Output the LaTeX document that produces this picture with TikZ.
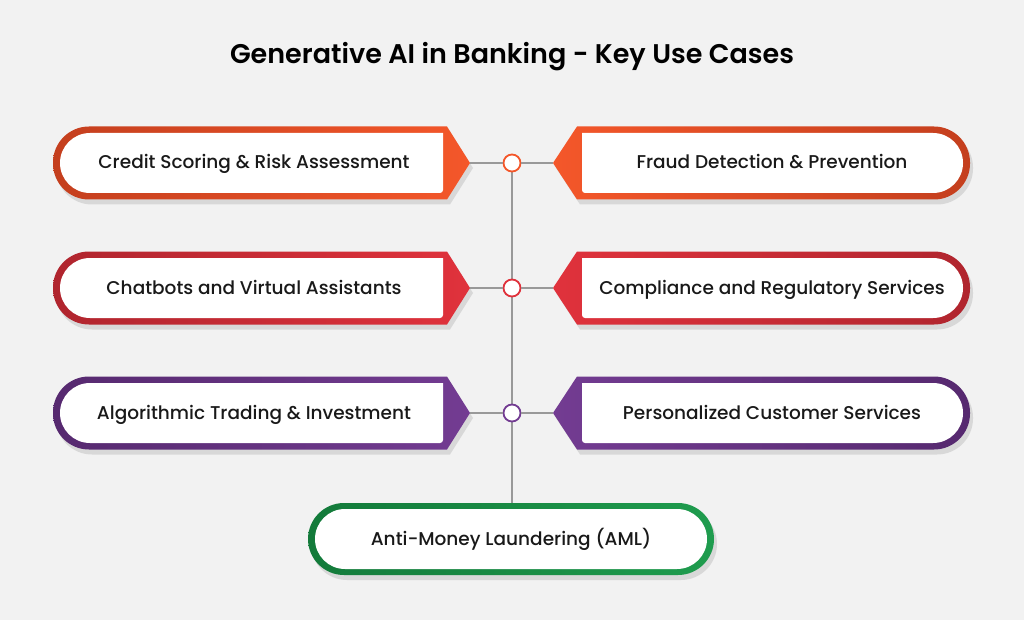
\documentclass[tikz,border=0pt]{standalone}
\usepackage{fontspec}
\setmainfont{Poppins}
\newfontfamily\medfont{Poppins Medium}
\newfontfamily\semifont{Poppins SemiBold}
\begin{document}
\begin{tikzpicture}[x=1pt,y=-1pt,
  lbl/.style={font=\medfont\fontsize{18.5}{22}\selectfont, text=black!90, inner sep=0pt, text height=13pt, text depth=3pt},
  hub/.style={circle, draw=#1, line width=1.8pt, fill=white, minimum size=17pt, inner sep=0pt},
  conn/.style={draw=black!40, line width=1.2pt}]
\definecolor{c1}{HTML}{F4572A}\definecolor{c1d}{HTML}{C43F1E}
\definecolor{c2}{HTML}{E0323C}\definecolor{c2d}{HTML}{B0252E}
\definecolor{c3}{HTML}{733C92}\definecolor{c3d}{HTML}{56296F}
\definecolor{c4}{HTML}{1F9C4E}\definecolor{c4d}{HTML}{137A3A}
\fill[black!5] (0,0) rectangle (1024,620);
\useasboundingbox (0,0) rectangle (1024,620);
\node[font=\semifont\fontsize{27}{32}\selectfont] (title) at (512,57) {Generative AI in Banking - Key Use Cases};
\coordinate (vtop) at (512,163);
\coordinate (vbot) at (512,503);
\draw[conn] (vtop) -- (vbot);
\newcommand{\lbox}[5]{% y, color, dark, name, text
  \fill[black!25, opacity=.5] (450,#1-31.5) -- (473,#1+5) -- (450,#1+41.5) {[rounded corners=36pt] -- (56,#1+41.5) -- (56,#1-31.5)} -- cycle;
  \shade[left color=#3, right color=#2] (447,#1-36.5) -- (470,#1) -- (447,#1+36.5) {[rounded corners=36pt] -- (53,#1+36.5) -- (53,#1-36.5)} -- cycle;
  \fill[white] (443,#1-30) {[rounded corners=3pt] -- (443,#1+30)} {[rounded corners=30pt] -- (60,#1+30) -- (60,#1-30)} -- cycle;
  \coordinate (#4tip) at (470,#1);
  \node[lbl] (#4) at (254,#1+1) {#5};}
\newcommand{\rbox}[5]{%
  \fill[black!25, opacity=.5] (580,#1-31.5) -- (556,#1+5) -- (580,#1+41.5) {[rounded corners=36pt] -- (973,#1+41.5) -- (973,#1-31.5)} -- cycle;
  \shade[left color=#2, right color=#3] (577,#1-36.5) -- (553,#1) -- (577,#1+36.5) {[rounded corners=36pt] -- (970,#1+36.5) -- (970,#1-36.5)} -- cycle;
  \fill[white] (582,#1-30) {[rounded corners=3pt] -- (582,#1+30)} {[rounded corners=30pt] -- (963,#1+30) -- (963,#1-30)} -- cycle;
  \coordinate (#4tip) at (553,#1);
  \node[lbl] (#4) at (772,#1+1) {#5};}
\lbox{163}{c1}{c1d}{credit}{Credit Scoring \& Risk Assessment}
\rbox{163}{c1}{c1d}{fraud}{Fraud Detection \& Prevention}
\lbox{288}{c2}{c2d}{chat}{Chatbots and Virtual Assistants}
\rbox{288}{c2}{c2d}{comp}{Compliance and Regulatory Services}
\lbox{413}{c3}{c3d}{algo}{Algorithmic Trading \& Investment}
\rbox{413}{c3}{c3d}{pers}{Personalized Customer Services}
\node[hub=c1] (h1) at (512,163) {};
\node[hub=c2] (h2) at (512,288) {};
\node[hub=c3] (h3) at (512,413) {};
\draw[conn] (credittip) -- (h1); \draw[conn] (h1) -- (fraudtip);
\draw[conn] (chattip) -- (h2); \draw[conn] (h2) -- (comptip);
\draw[conn] (algotip) -- (h3); \draw[conn] (h3) -- (perstip);
\fill[black!25, opacity=.5, rounded corners=36pt] (311,508) rectangle (717,580);
\shade[left color=c4d, right color=c4, rounded corners=36pt] (308,503) rectangle (714,575);
\fill[white, rounded corners=30pt] (315,509) rectangle (707,569);
\node[lbl] (aml) at (511,540) {Anti-Money Laundering (AML)};
\end{tikzpicture}
\end{document}
